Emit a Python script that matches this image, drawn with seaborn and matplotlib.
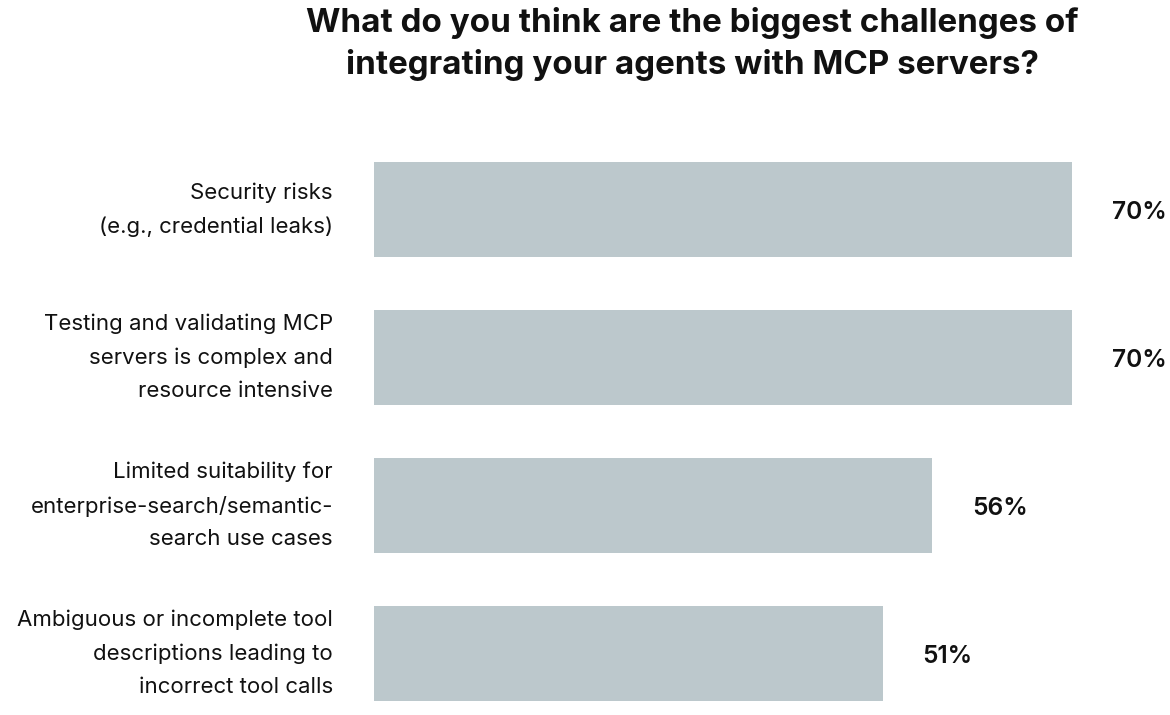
import matplotlib

matplotlib.use("Agg")
import matplotlib.pyplot as plt
import pandas as pd
import seaborn as sns

challenges = [
    "Security risks\n(e.g., credential leaks)",
    "Testing and validating MCP\nservers is complex and\nresource intensive",
    "Limited suitability for\nenterprise-search/semantic-\nsearch use cases",
    "Ambiguous or incomplete tool\ndescriptions leading to\nincorrect tool calls",
]
shares = [70, 70, 56, 51]

df = pd.DataFrame({"challenge": challenges, "share": shares})

sns.set_theme(style="white")
plt.rcParams["font.family"] = ["Inter", "DejaVu Sans"]

fig = plt.figure(figsize=(11.7, 7.15), dpi=100)
ax = fig.add_axes([374 / 1170, 0, 698 / 1170, 585 / 715])

sns.barplot(data=df, x="share", y="challenge", orient="h", color="#bcc8cc",
            width=0.642, saturation=1, linewidth=0, ax=ax)

ax.set_xlim(0, 70)
ax.set_ylim(3.416, -0.537)
ax.set_xlabel("")
ax.set_ylabel("")
ax.set_xticks([])
ax.tick_params(axis="y", length=0, pad=29.5)
for lbl in ax.get_yticklabels():
    lbl.set_fontsize(16)
    lbl.set_color("#111111")
    lbl.set_linespacing(1.8)
    lbl.set_verticalalignment("center")
sns.despine(ax=ax, left=True, bottom=True)

# value labels sit a little below the bar centre, as in the source
for i, v in enumerate(shares):
    ax.annotate(f"{v}%", xy=(v, i), xytext=(40, -3), textcoords="offset pixels",
                ha="left", va="center", fontsize=17.6, fontweight="semibold",
                color="#111111", annotation_clip=False)

fig.text(692 / 1170, 1 - 44 / 715,
         "What do you think are the biggest challenges of\nintegrating your agents with MCP servers?",
         ha="center", va="center", fontsize=23.9, fontweight="bold",
         color="#111111", linespacing=1.42)

fig.savefig("out.png", dpi=100, facecolor="white")
